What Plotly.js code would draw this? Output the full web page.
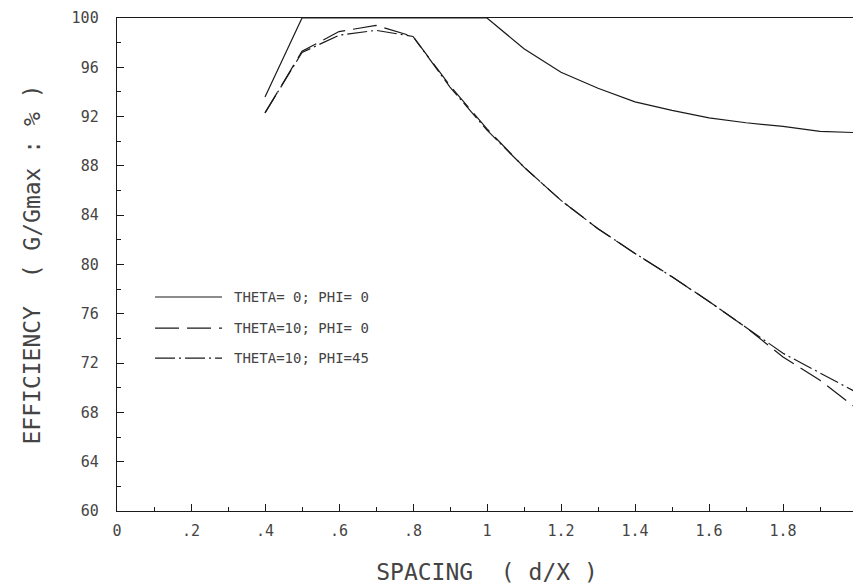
<!DOCTYPE html>
<html>
<head>
<meta charset="utf-8">
<script src="https://cdn.plot.ly/plotly-3.0.1.min.js"></script>
<style>
html,body{margin:0;padding:0;overflow:hidden;background:#fff;}
#chart{width:880px;height:587px;}
</style>
</head>
<body>
<div id="chart"></div>
<script>
// spacing d/X
const spacing = [0.4,0.5,0.6,0.7,0.8,0.9,1.0,1.1,1.2,1.3,1.4,1.5,1.6,1.7,1.8,1.9,2.0];
// efficiency (G/Gmax : %)
const theta0phi0   = [93.6,100,100,100,100,100,100,97.5,95.6,94.3,93.2,92.5,91.9,91.5,91.2,90.8,90.7];
const theta10phi0  = [92.3,97.3,98.9,99.4,98.5,94.5,91.0,87.9,85.2,82.9,80.9,79.0,77.0,74.9,72.5,70.6,68.3];
const theta10phi45 = [92.3,97.2,98.6,99.0,98.5,94.4,90.9,87.9,85.2,82.9,80.9,79.0,77.0,74.9,72.8,71.2,69.6];
const seriesNames = ['THETA= 0; PHI= 0','THETA=10; PHI= 0','THETA=10; PHI=45'];
const xTickVals = [0,0.2,0.4,0.6,0.8,1.0,1.2,1.4,1.6,1.8,2.0];
const xTickText = ['0','.2','.4','.6','.8','1','1.2','1.4','1.6','1.8','2'];
const yTickVals = [60,64,68,72,76,80,84,88,92,96,100];

const ink = '#1a1a1a';
const dashes = ['solid','24px,8px','20px,4px,2px,4px'];
const seriesY = [theta0phi0, theta10phi0, theta10phi45];

const traces = seriesY.map((ys,i)=>({
  type:'scatter', mode:'lines', x:spacing, y:ys, name:seriesNames[i],
  line:{color:ink, width:1.2, dash:dashes[i]}, showlegend:false, cliponaxis:true
}));

// legend drawn as line samples + labels in paper coordinates
const legY = [0.434,0.371,0.310];
const shapes = legY.map((y,i)=>({
  type:'line', xref:'paper', yref:'paper', x0:0.0514, x1:0.1419, y0:y, y1:y,
  line:{color:ink, width:1.1, dash:dashes[i]}
}));
const annotations = legY.map((y,i)=>({
  xref:'paper', yref:'paper', x:0.155, y:y, xanchor:'left', yanchor:'middle',
  text:seriesNames[i], showarrow:false,
  font:{family:'DejaVu Sans Mono, monospace', size:14, color:'#444'}
}));

const tickFont = {family:'DejaVu Sans Mono, monospace', size:15, color:'#444'};
const titleFont = {family:'DejaVu Sans Mono, monospace', size:23, color:'#444'};

const layout = {
  width:880, height:587,
  margin:{l:117, r:23, t:18, b:76},
  paper_bgcolor:'#fff', plot_bgcolor:'#fff',
  showlegend:false,
  xaxis:{
    range:[0,2], tickvals:xTickVals, ticktext:xTickText,
    ticks:'inside', ticklen:7, tickwidth:1, tickcolor:ink,
    minor:{dtick:0.1, ticks:'inside', ticklen:4, tickcolor:ink, showgrid:false},
    showgrid:false, zeroline:false, showline:true, linecolor:ink, linewidth:1.3, mirror:true,
    tickfont:tickFont, ticklabelstandoff:6,
    title:{text:'SPACING \u00a0( d/X )', font:titleFont, standoff:24}
  },
  yaxis:{
    range:[60,100], tickvals:yTickVals,
    ticks:'inside', ticklen:7, tickwidth:1, tickcolor:ink,
    minor:{dtick:2, ticks:'inside', ticklen:4, tickcolor:ink, showgrid:false},
    showgrid:false, zeroline:false, showline:true, linecolor:ink, linewidth:1.3,
    tickfont:tickFont, ticklabelstandoff:14,
    title:{text:'EFFICIENCY \u00a0( G/Gmax : % )', font:titleFont, standoff:24}
  },
  shapes:shapes, annotations:annotations
};

Plotly.newPlot('chart', traces, layout, {displayModeBar:false, staticPlot:true});
</script>
</body>
</html>
